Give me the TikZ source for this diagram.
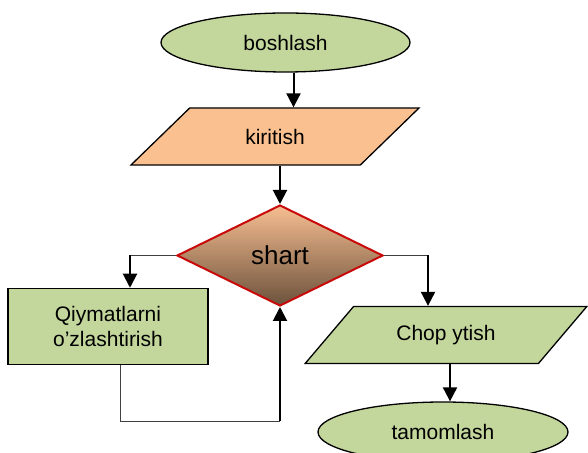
\documentclass[tikz,border=0pt]{standalone}
\usepackage{fontspec}
\setmainfont{Liberation Sans}
\usetikzlibrary{shapes.geometric, arrows.meta}
\definecolor{termgreen}{RGB}{195,214,155}
\definecolor{inpeach}{RGB}{250,192,143}
\definecolor{condtop}{RGB}{247,190,145}
\definecolor{condbot}{RGB}{108,82,60}
\definecolor{condred}{RGB}{200,10,10}

\begin{document}
\begin{tikzpicture}[x=1pt, y=1pt,
    term/.style={draw, ellipse, fill=termgreen, minimum width=249pt, minimum height=59pt,
                 inner sep=0pt, line width=1.3pt, font=\fontsize{21}{24}\selectfont},
    io/.style={draw, trapezium, trapezium left angle=37, trapezium right angle=143,
               trapezium stretches=true, minimum height=57pt, inner sep=0pt,
               line width=1.3pt, font=\fontsize{21}{24}\selectfont},
    proc/.style={draw, rectangle, fill=termgreen, minimum width=200pt, minimum height=76pt,
                 align=center, line width=1.5pt, font=\fontsize{21}{25}\selectfont},
    cond/.style={draw=condred, diamond, top color=condtop, bottom color=condbot,
                 minimum width=206pt, minimum height=101pt, inner sep=0pt,
                 line width=2pt, font=\fontsize{26}{30}\selectfont},
    arr/.style={-{Triangle[length=14pt, width=14pt]}, line width=2pt},
    link/.style={line width=0.8pt, color=black!75},
]
\useasboundingbox (0,0) rectangle (588,452);

\node[term] (start) at (285.5,409.5) {boshlash};
\node[io, fill=inpeach, minimum width=290pt] (inp) at (275,315.5) {kiritish};
\node[cond] (check) at (280,196.5) {shart};
\node[proc] (assign) at (108,125.5) {Qiymatlarni\\o’zlashtirish};
\node[io, fill=termgreen, minimum width=282pt] (outp) at (446,117) {Chop ytish};
\node[term, minimum width=250pt, minimum height=60pt] (stop) at (443,20) {tamomlash};

\draw[arr] ([xshift=8pt]start.south) -- ([xshift=8pt]start.south |- inp.north);
\draw[arr] (inp.south -| check.north) -- (check.north);

% left branch and loop back
\coordinate (lcorner) at ([xshift=22pt]assign.north |- check.west);
\draw[link] (check.west) -- (lcorner);
\draw[arr] (lcorner) -- ([xshift=22pt]assign.north);
\coordinate (lbot) at ([xshift=12pt]assign.south |- 0,31);
\coordinate (rbot) at (check.south |- lbot);
\draw[link] ([xshift=12pt]assign.south) -- (lbot) -- (rbot);
\draw[arr] (rbot) -- (check.south);

% right branch
\coordinate (rcorner) at ([xshift=-18pt]outp.north |- check.east);
\draw[link] (check.east) -- (rcorner);
\draw[arr] (rcorner) -- ([xshift=-18pt]outp.north);
\draw[arr] ([xshift=4pt]outp.south) -- ([xshift=4pt]outp.south |- stop.north);
\end{tikzpicture}
\end{document}
